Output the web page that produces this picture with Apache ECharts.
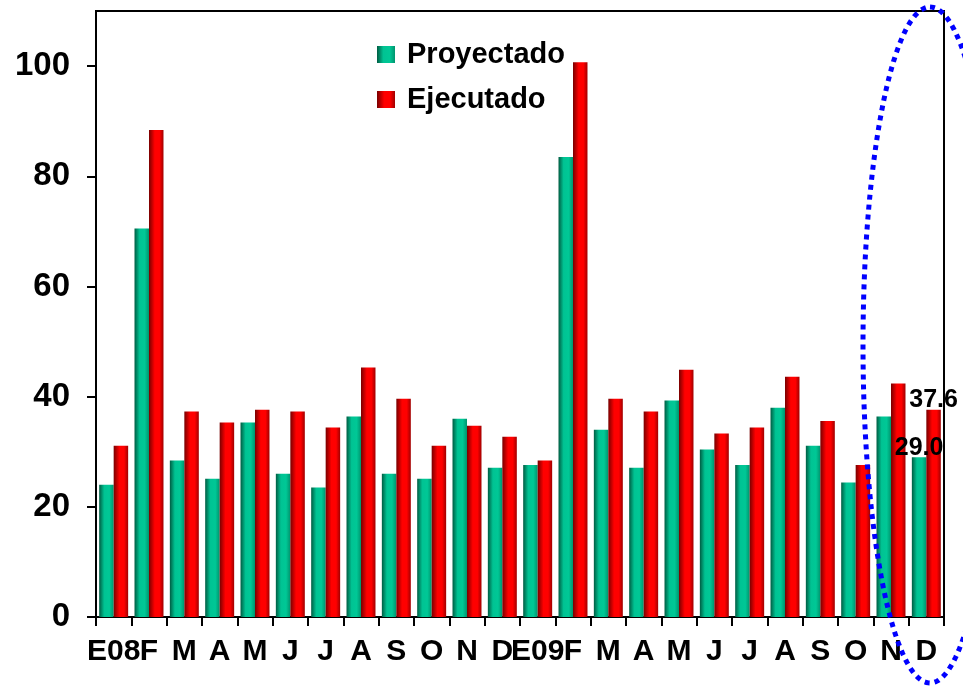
<!DOCTYPE html>
<html>
<head>
<meta charset="utf-8">
<script src="https://cdn.jsdelivr.net/npm/echarts@6/dist/echarts.min.js"></script>
<style>
  html, body { margin: 0; padding: 0; background: #fff; }
  #main { width: 963px; height: 686px; }
</style>
</head>
<body>
<div id="main"></div>
<script>
// meses (E = enero)
const months = ['E08', 'F', 'M', 'A', 'M', 'J', 'J', 'A', 'S', 'O', 'N', 'D',
                'E09', 'F', 'M', 'A', 'M', 'J', 'J', 'A', 'S', 'O', 'N', 'D'];
const proyectado = [24.0, 70.5, 28.4, 25.1, 35.3, 26.0, 23.5, 36.4, 26.0, 25.1, 36.0, 27.1,
                    27.6, 83.5, 34.0, 27.1, 39.3, 30.4, 27.6, 38.0, 31.1, 24.4, 36.4, 29.0];
const ejecutado = [31.1, 88.4, 37.3, 35.3, 37.6, 37.3, 34.4, 45.3, 39.6, 31.1, 34.7, 32.7,
                   28.4, 100.7, 39.6, 37.3, 44.9, 33.3, 34.4, 43.6, 35.6, 27.6, 42.4, 37.6];
const yTicks = [0, 20, 40, 60, 80, 100];

const font = 'Arial, "Liberation Sans", sans-serif';

// gradientes horizontales de las barras
const greenFill = new echarts.graphic.LinearGradient(0, 0, 1, 0, [
  { offset: 0, color: '#005c42' },
  { offset: 0.35, color: '#00c393' },
  { offset: 0.7, color: '#00c896' },
  { offset: 1, color: '#00946e' }
]);
const redFill = new echarts.graphic.LinearGradient(0, 0, 1, 0, [
  { offset: 0, color: '#780000' },
  { offset: 0.4, color: '#ff0000' },
  { offset: 0.72, color: '#ff0000' },
  { offset: 1, color: '#a00000' }
]);

// solo el ultimo mes lleva etiqueta
function withLastLabel(arr) {
  return arr.map(function (v, i) {
    if (i !== arr.length - 1) return v;
    return {
      value: v,
      label: {
        show: true,
        position: 'top',
        distance: -3,
        formatter: function (p) { return p.value.toFixed(1); },
        color: '#000',
        fontFamily: font,
        fontWeight: 'bold',
        fontSize: 25
      }
    };
  });
}

// elipse punteada azul (anotacion)
const ellipsePts = [];
for (let k = 0; k <= 240; k++) {
  const t = k / 240 * Math.PI * 2;
  ellipsePts.push([930 + 67 * Math.sin(t), 345 - 338 * Math.cos(t)]);
}

const myChart = echarts.init(document.getElementById('main'));
const option = {
  animation: false,
  backgroundColor: '#fff',
  grid: {
    left: 96,
    right: 19,
    top: 11,
    bottom: 69,
    show: true,
    borderColor: '#000',
    borderWidth: 2
  },
  legend: {
    orient: 'vertical',
    left: 372,
    top: 35,
    itemWidth: 18,
    itemHeight: 17,
    itemGap: 16,
    icon: 'rect',
    textStyle: {
      color: '#000',
      fontFamily: font,
      fontWeight: 'bold',
      fontSize: 29,
      padding: [0, 0, 0, 7]
    },
    data: ['Proyectado', 'Ejecutado']
  },
  xAxis: {
    type: 'category',
    data: months,
    axisLine: { lineStyle: { color: '#000', width: 2 } },
    axisTick: { show: true, inside: false, length: 9, lineStyle: { color: '#000', width: 2 } },
    axisLabel: {
      interval: 0,
      margin: 20,
      color: '#000',
      fontFamily: font,
      fontWeight: 'bold',
      fontSize: 30
    }
  },
  yAxis: {
    type: 'value',
    min: 0,
    max: 110,
    interval: 20,
    axisLine: { show: true, lineStyle: { color: '#000', width: 2 } },
    axisTick: { show: true, length: 9, customValues: yTicks, lineStyle: { color: '#000', width: 2 } },
    splitLine: { show: false },
    axisLabel: {
      customValues: yTicks,
      margin: 26,
      color: '#000',
      fontFamily: font,
      fontWeight: 'bold',
      fontSize: 33
    }
  },
  series: [
    {
      name: 'Proyectado',
      type: 'bar',
      barGap: '0%',
      barCategoryGap: '18%',
      itemStyle: { color: greenFill },
      data: withLastLabel(proyectado)
    },
    {
      name: 'Ejecutado',
      type: 'bar',
      itemStyle: { color: redFill },
      data: withLastLabel(ejecutado)
    }
  ],
  graphic: [{
    type: 'polyline',
    z: 100,
    silent: true,
    shape: { points: ellipsePts },
    style: {
      fill: null,
      stroke: '#0000ff',
      lineWidth: 5,
      lineDash: [5, 5]
    }
  }]
};
myChart.setOption(option);
window.addEventListener('resize', function () {
  myChart.resize();
});
</script>
</body>
</html>
